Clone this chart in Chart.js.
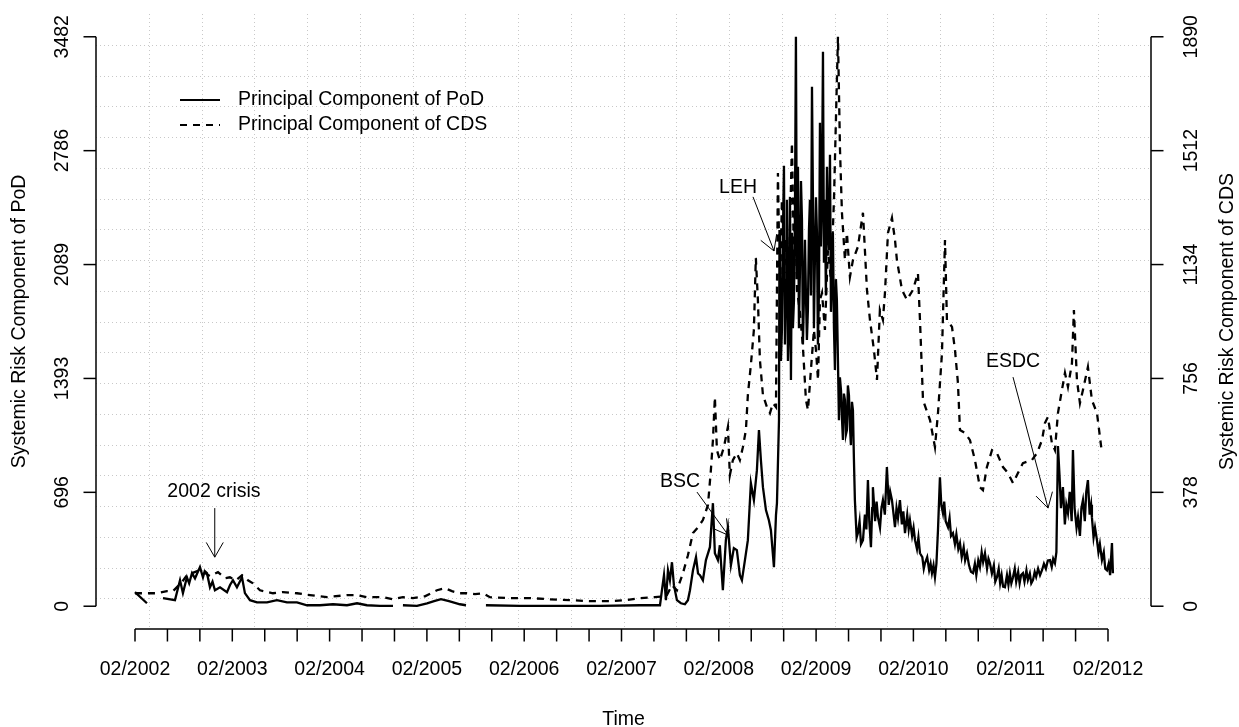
<!DOCTYPE html>
<html>
<head>
<meta charset="utf-8">
<script src="https://cdn.jsdelivr.net/npm/chart.js@4.4.1/dist/chart.umd.min.js"></script>
<style>
html,body{margin:0;padding:0;background:#fff;}
#wrap{width:1239px;height:727px;position:relative;}
</style>
</head>
<body>
<div id="wrap"><canvas id="c" width="1239" height="727"></canvas></div>
<script>
// ---------------- DATA ----------------
// time in decimal years, values of the PoD principal component (left axis)
const podTime = [
2002.083,2002.206,2002.26,2002.371,2002.494,2002.546,2002.576,2002.617,2002.640,2002.669,2002.700,2002.751,2002.782,2002.800,2002.823,2002.854,2002.880,2002.905,2002.957,
2003.029,2003.060,2003.090,2003.131,2003.160,2003.183,2003.213,2003.265,2003.337,2003.440,2003.542,2003.645,2003.748,2003.851,2003.984,
2004.118,2004.262,2004.365,2004.467,2004.601,2004.735,2004.79,2004.837,2004.981,
2005.085,2005.157,2005.228,2005.310,2005.423,2005.485,2005.57,2005.690,2006.040,2006.451,2006.862,2007.273,2007.479,
2007.499,2007.520,2007.540,2007.561,2007.581,2007.602,2007.622,2007.653,2007.694,2007.735,2007.766,2007.787,2007.818,2007.849,2007.870,2007.890,2007.920,2007.951,2007.992,
2008.023,2008.043,2008.074,2008.094,2008.125,2008.156,2008.177,2008.208,2008.238,2008.269,2008.300,2008.321,2008.352,2008.382,2008.413,2008.444,2008.475,2008.496,2008.516,2008.537,2008.568,2008.598,2008.619,2008.650,2008.671,2008.681,
2008.702,2008.707,2008.712,2008.722,2008.732,2008.743,2008.753,2008.763,2008.774,2008.784,2008.794,2008.804,2008.815,2008.825,2008.835,2008.845,2008.856,2008.866,2008.876,2008.886,2008.897,2008.907,2008.917,2008.928,2008.938,2008.948,2008.958,2008.969,2008.979,2008.989,2008.999,
2009.010,2009.020,2009.030,2009.041,2009.051,2009.061,2009.071,2009.082,2009.092,2009.102,2009.113,2009.123,2009.133,2009.143,2009.154,2009.164,2009.174,2009.184,2009.195,2009.205,2009.215,2009.226,2009.236,2009.246,2009.256,2009.267,2009.277,2009.287,2009.297,2009.308,2009.318,2009.328,2009.339,2009.349,2009.359,2009.369,2009.380,2009.390,2009.400,2009.410,2009.421,2009.431,2009.441,2009.452,2009.462,2009.472,
2009.482,2009.500,2009.513,2009.530,2009.545,2009.565,2009.585,2009.600,2009.616,2009.630,2009.647,2009.660,2009.667,2009.690,2009.705,2009.719,2009.740,2009.755,2009.770,2009.790,2009.811,2009.830,2009.845,2009.863,2009.880,2009.894,2009.910,2009.925,2009.945,2009.965,2009.980,2009.997,
2010.020,2010.035,2010.048,2010.070,2010.085,2010.100,2010.120,2010.135,2010.151,2010.175,2010.190,2010.202,2010.225,2010.245,2010.260,2010.274,2010.290,2010.305,2010.320,2010.336,2010.356,2010.370,2010.387,2010.400,2010.415,2010.439,2010.455,2010.470,2010.490,2010.510,2010.525,2010.545,2010.562,2010.580,2010.600,2010.615,2010.634,2010.655,2010.675,2010.696,2010.715,2010.730,2010.750,2010.767,2010.785,2010.800,2010.819,2010.840,2010.855,2010.870,2010.890,2010.910,2010.925,2010.942,2010.960,2010.975,2010.990,
2011.005,2011.024,2011.045,2011.060,2011.075,2011.090,2011.107,2011.125,2011.140,2011.160,2011.175,2011.190,2011.209,2011.225,2011.245,2011.260,2011.280,2011.295,2011.312,2011.330,2011.345,2011.365,2011.385,2011.405,2011.425,2011.445,2011.465,2011.487,2011.505,2011.520,2011.538,2011.553,2011.569,2011.585,2011.600,2011.620,2011.640,2011.655,2011.672,2011.690,2011.710,2011.723,2011.740,2011.760,2011.775,2011.795,2011.810,2011.826,2011.845,2011.860,2011.877,2011.895,2011.910,2011.918,2011.935,2011.950,2011.970,2011.985,
2012.000,2012.021,2012.040,2012.055,2012.073,2012.090,2012.105,2012.124,2012.134
];
const podValue = [
86,18,null,49,37,159,80,177,140,202,170,239,177,215,202,116,150,98,116,
86,130,159,116,150,177,80,37,24,24,37,24,24,6,6,
12,6,18,6,2,2,null,6,2,
18,31,43,31,12,6,null,6,2,2,2,6,6,
98,190,37,220,159,269,129,37,18,12,37,98,220,300,200,190,159,282,361,
630,324,282,373,98,404,483,251,355,343,190,159,282,404,753,649,832,1077,894,728,588,526,465,239,557,630,
1138,2300,2118,1500,1689,2300,2693,1600,1995,2485,1500,1689,2503,1383,2283,1700,1873,2400,3482,2000,2687,1700,2038,2600,2362,1600,1873,2240,1900,1628,1812,
2300,2485,1900,3176,2485,1700,2118,2500,2283,1600,1934,2956,2200,2485,3390,2100,2485,1900,2687,2300,2179,2760,1800,1995,2283,1700,1444,2000,1873,1500,1138,1400,1322,1150,1016,1300,1261,1050,1077,1350,1291,1100,985,1250,1200,900,
649,420,447,520,380,404,560,470,771,520,361,600,728,520,640,545,480,600,649,560,851,620,700,649,560,483,600,540,649,500,580,447,
560,470,526,430,480,404,350,420,324,300,230,263,300,220,260,202,250,177,260,465,789,620,569,640,520,483,540,430,447,380,440,350,386,300,360,280,324,250,210,202,260,190,280,239,330,270,324,230,290,263,200,250,150,177,230,140,190,
120,116,190,130,200,140,177,230,150,210,140,190,202,150,220,160,200,140,159,210,180,230,190,220,260,230,280,282,240,290,263,330,980,800,600,728,500,620,569,700,520,955,600,480,545,430,600,649,520,700,771,560,620,545,420,480,404,330,
380,282,330,230,220,260,190,386,202
];

// time in decimal years, values of the CDS principal component (right axis)
const cdsTime = [
2002.083,2002.237,2002.309,2002.412,2002.474,2002.566,2002.617,2002.751,2002.854,2002.936,
2003.008,2003.059,2003.121,2003.183,2003.244,2003.296,2003.368,2003.501,2003.604,2003.748,2003.882,
2004.056,2004.262,2004.365,2004.467,2004.632,2004.735,2004.837,2004.940,
2005.063,2005.187,2005.269,2005.341,2005.423,2005.495,2005.577,2005.659,2005.731,2005.937,
2006.142,2006.348,2006.554,2006.759,2006.965,2007.119,2007.283,2007.427,2007.509,
2007.550,2007.602,2007.653,2007.715,2007.766,2007.818,2007.869,2007.920,2007.972,
2008.002,2008.023,2008.043,2008.064,2008.094,2008.136,2008.177,2008.197,2008.228,2008.269,2008.300,2008.331,2008.362,2008.382,2008.413,2008.444,2008.464,2008.485,2008.506,2008.537,2008.578,2008.609,2008.640,2008.671,
2008.691,2008.712,2008.732,2008.753,2008.774,2008.794,2008.815,2008.835,2008.856,2008.866,2008.887,2008.918,2008.948,2008.979,
2009.000,2009.030,2009.061,2009.082,2009.103,2009.123,2009.144,2009.174,2009.205,2009.236,2009.267,2009.287,2009.308,2009.329,2009.349,2009.380,2009.400,2009.431,2009.462,2009.513,2009.565,2009.606,2009.637,2009.678,2009.709,2009.739,2009.770,2009.791,2009.822,2009.863,2009.894,2009.914,2009.966,
2010.017,2010.079,2010.130,2010.151,2010.182,2010.254,2010.305,2010.336,2010.377,2010.408,2010.428,2010.480,2010.511,2010.541,2010.562,2010.613,2010.665,2010.716,2010.767,2010.798,2010.839,2010.891,2010.942,
2011.004,2011.055,2011.107,2011.158,2011.209,2011.301,2011.353,2011.405,2011.435,2011.466,2011.507,2011.538,2011.569,2011.610,2011.641,2011.672,2011.713,2011.733,2011.764,2011.795,2011.826,2011.877,2011.918,2011.970,
2012.001,2012.021
];
const cdsValue = [
43,43,43,50,50,80,103,120,100,113,
93,96,86,103,86,76,53,43,47,43,37,
30,37,37,30,30,23,30,27,
33,53,60,50,43,43,40,43,30,27,
27,23,20,17,17,20,27,30,33,
37,70,53,110,169,243,262,286,336,
452,551,694,518,485,528,595,435,485,508,485,528,585,701,801,917,1156,1017,817,701,661,641,674,661,
1438,1017,1349,1083,1216,950,1249,1538,1149,1349,1050,973,860,684,
651,784,917,850,751,1017,1040,917,1183,1083,1349,1614,1890,1515,1306,1149,1239,1093,1149,1193,1306,1050,950,850,751,983,950,1040,1239,1289,1216,1149,1050,
1017,1050,1106,950,684,618,528,641,840,1215,950,927,850,741,585,575,551,485,395,385,462,518,508,
462,442,409,442,475,485,508,551,608,628,541,518,641,718,774,728,807,983,751,674,718,794,684,641,
561,508
];

// x axis ticks (every 4 months) and labels
const xTickDates = [
'2002-02','2002-06','2002-10','2003-02','2003-06','2003-10','2004-02','2004-06','2004-10',
'2005-02','2005-06','2005-10','2006-02','2006-06','2006-10','2007-02','2007-06','2007-10',
'2008-02','2008-06','2008-10','2009-02','2009-06','2009-10','2010-02','2010-06','2010-10',
'2011-02','2011-06','2011-10','2012-02'
];
const xTickLabels = [
'02/2002','','','02/2003','','','02/2004','','','02/2005','','','02/2006','','','02/2007','','',
'02/2008','','','02/2009','','','02/2010','','','02/2011','','','02/2012'
];
const leftTickValues = [0, 696.4, 1392.8, 2089.2, 2785.6, 3482];
const leftTickLabels = ['0','696','1393','2089','2786','3482'];
const rightTickValues = [0, 378, 756, 1134, 1512, 1890];
const rightTickLabels = ['0','378','756','1134','1512','1890'];

const seriesNames = ['Principal Component of PoD', 'Principal Component of CDS'];
const axisTitles = {x:'Time', left:'Systemic Risk Component of PoD', right:'Systemic Risk Component of CDS'};

// annotations: text position and arrow (data coords, left axis units)
const notes = [
  {text:'2002 crisis', tx:2002.895, ty:698,  ax0:2002.903, ay0:600,  ax1:2002.903, ay1:300},
  {text:'BSC',         tx:2007.685, ty:759,  ax0:2007.859, ay0:698,  ax1:2008.181, ay1:434},
  {text:'LEH',         tx:2008.281, ty:2558, ax0:2008.435, ay0:2503, ax1:2008.651, ay1:2172},
  {text:'ESDC',        tx:2011.107, ty:1493, ax0:2011.107, ay0:1401, ax1:2011.467, ay1:600}
];

// ---------------- helpers ----------------
const toYear = s => { const [y,m] = s.split('-').map(Number); return y + (m-1)/12; };
const xTickTimes = xTickDates.map(toYear);
const pts = (t, v) => t.map((x,i) => ({x:x, y:v[i]}));

const X_MIN = 2001.6825, X_MAX = 2012.5253;
const padL = 3482*0.04, padR = 1890*0.04;
const FONT = '19.5px "Liberation Sans", Arial, Helvetica, sans-serif';

function seg(ctx, x0,y0,x1,y1){ ctx.beginPath(); ctx.moveTo(x0,y0); ctx.lineTo(x1,y1); ctx.stroke(); }
function arrow(ctx, x0,y0,x1,y1){
  seg(ctx,x0,y0,x1,y1);
  const ang = Math.atan2(y1-y0, x1-x0), L = 17, a = Math.PI/6;
  seg(ctx, x1, y1, x1 - L*Math.cos(ang-a), y1 - L*Math.sin(ang-a));
  seg(ctx, x1, y1, x1 - L*Math.cos(ang+a), y1 - L*Math.sin(ang+a));
}
function vtext(ctx, s, x, y){
  ctx.save(); ctx.translate(x,y); ctx.rotate(-Math.PI/2);
  ctx.textAlign='center'; ctx.textBaseline='alphabetic'; ctx.fillText(s,0,0); ctx.restore();
}

const rPlot = {
  id:'rPlot',
  beforeDatasetsDraw(chart){
    const {ctx, chartArea:a} = chart;
    ctx.save();
    ctx.strokeStyle = '#c8c8c8'; ctx.lineWidth = 1; ctx.setLineDash([1,3]);
    for(let i=1;i<20;i++){
      const px = Math.round(a.left + (a.right-a.left)*i/20) + 0.5;
      seg(ctx, px, a.top, px, a.bottom);
      const py = Math.round(a.top + (a.bottom-a.top)*i/20) + 0.5;
      seg(ctx, a.left, py, a.right, py);
    }
    ctx.restore();
  },
  afterDraw(chart){
    const {ctx, chartArea:a, scales} = chart;
    const x = scales.x, yL = scales.yL, yR = scales.yR;
    ctx.save();
    ctx.setLineDash([]);
    ctx.strokeStyle = '#000'; ctx.fillStyle = '#000'; ctx.lineWidth = 1.5;
    ctx.font = FONT;
    const TL = 12.5;
    // x axis
    const xb = a.bottom;
    seg(ctx, x.getPixelForValue(xTickTimes[0]), xb, x.getPixelForValue(xTickTimes[xTickTimes.length-1]), xb);
    ctx.textAlign='center'; ctx.textBaseline='alphabetic';
    xTickTimes.forEach((t,i)=>{
      const px = x.getPixelForValue(t);
      seg(ctx, px, xb, px, xb+TL);
      if(xTickLabels[i]) ctx.fillText(xTickLabels[i], px, 675);
    });
    ctx.fillText(axisTitles.x, (a.left+a.right)/2, 725);
    // left axis
    const xl = a.left;
    seg(ctx, xl, yL.getPixelForValue(leftTickValues[0]), xl, yL.getPixelForValue(leftTickValues[leftTickValues.length-1]));
    leftTickValues.forEach((v,i)=>{
      const py = yL.getPixelForValue(v);
      seg(ctx, xl-TL, py, xl, py);
      vtext(ctx, leftTickLabels[i], 68, py);
    });
    vtext(ctx, axisTitles.left, 25, (yL.getPixelForValue(0)+yL.getPixelForValue(3482))/2);
    // right axis
    const xr = a.right;
    seg(ctx, xr, yR.getPixelForValue(rightTickValues[0]), xr, yR.getPixelForValue(rightTickValues[rightTickValues.length-1]));
    rightTickValues.forEach((v,i)=>{
      const py = yR.getPixelForValue(v);
      seg(ctx, xr, py, xr+TL, py);
      vtext(ctx, rightTickLabels[i], 1197, py);
    });
    vtext(ctx, axisTitles.right, 1233, (yR.getPixelForValue(0)+yR.getPixelForValue(1890))/2);
    // legend
    ctx.lineWidth = 2;
    seg(ctx, 180, 100, 220, 100);
    ctx.setLineDash([7,6]);
    seg(ctx, 180, 125, 220, 125);
    ctx.setLineDash([]);
    ctx.textAlign='left'; ctx.textBaseline='middle';
    ctx.fillText(seriesNames[0], 238, 100);
    ctx.fillText(seriesNames[1], 238, 125);
    // annotations
    ctx.lineWidth = 1;
    ctx.textAlign='center'; ctx.textBaseline='middle';
    notes.forEach(n=>{
      ctx.fillText(n.text, x.getPixelForValue(n.tx), yL.getPixelForValue(n.ty));
      arrow(ctx, x.getPixelForValue(n.ax0), yL.getPixelForValue(n.ay0), x.getPixelForValue(n.ax1), yL.getPixelForValue(n.ay1));
    });
    ctx.restore();
  }
};

new Chart(document.getElementById('c').getContext('2d'), {
  type:'line',
  data:{
    datasets:[
      {label:seriesNames[1], data:pts(cdsTime, cdsValue), yAxisID:'yR', borderColor:'#000', borderWidth:2.3,
       borderDash:[7,6], pointRadius:0, tension:0, spanGaps:false, order:1, fill:false},
      {label:seriesNames[0], data:pts(podTime, podValue), yAxisID:'yL', borderColor:'#000', borderWidth:2.3,
       pointRadius:0, tension:0, spanGaps:false, order:2, fill:false}
    ]
  },
  options:{
    responsive:false, animation:false, devicePixelRatio:1,
    layout:{padding:{left:96, right:88, top:14, bottom:98}},
    plugins:{legend:{display:false}, tooltip:{enabled:false}, title:{display:false}},
    events:[],
    scales:{
      x:{type:'linear', min:X_MIN, max:X_MAX, display:false},
      yL:{type:'linear', position:'left', min:-padL, max:3482+padL, display:false},
      yR:{type:'linear', position:'right', min:-padR, max:1890+padR, display:false}
    }
  },
  plugins:[rPlot]
});
</script>
</body>
</html>
